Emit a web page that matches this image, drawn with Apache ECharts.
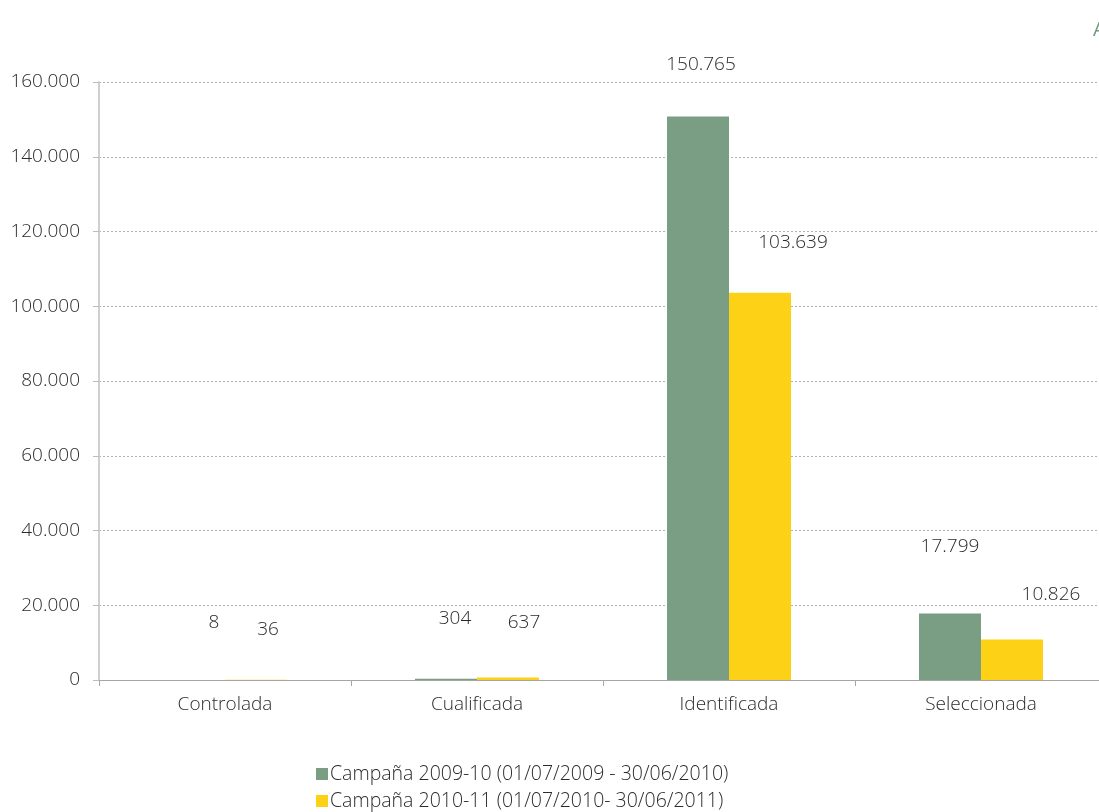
<!DOCTYPE html>
<html>
<head>
<meta charset="utf-8">
<script src="https://cdn.jsdelivr.net/npm/echarts@6/dist/echarts.min.js"></script>
<style>
html,body{margin:0;padding:0;background:#fff;}
#chart{width:1099px;height:812px;}
</style>
</head>
<body>
<div id="chart"></div>
<script>
const categories = ['Controlada', 'Cualificada', 'Identificada', 'Seleccionada'];
const seriesNames = ['Campaña 2009-10 (01/07/2009 - 30/06/2010)', 'Campaña 2010-11 (01/07/2010- 30/06/2011)'];
const values2009 = [8, 304, 150765, 17799];
const values2010 = [36, 637, 103639, 10826];
const yTicks = [0, 20000, 40000, 60000, 80000, 100000, 120000, 140000, 160000];

// label placement tweaks (pixels), kept apart from data
const labelOffsets2009 = [[20, -43], [9, -46], [3, -37], [0, -52]];
const labelOffsets2010 = [[12, -36], [16, -41], [33, -36], [39, -30]];

const FONT = 'Open Sans';
const FW = 300;
const FS = 19;
const TXT = '#2b2b2b';
function fmt(v) {
  return String(v).replace(/\B(?=(\d{3})+(?!\d))/g, '.');
}
function mkData(vals, offs) {
  return vals.map((v, i) => ({ value: v, label: { offset: offs[i] } }));
}
function mkLegend(name, top) {
  return {
    orient: 'horizontal',
    left: 316,
    top: top,
    padding: 0,
    itemWidth: 12,
    itemHeight: 12,
    icon: 'rect',
    textStyle: { fontFamily: FONT, fontSize: 19.5, color: TXT, fontWeight: FW, padding: [0, 0, 0, -3] },
    data: [name]
  };
}

const chart = echarts.init(document.getElementById('chart'), null, { renderer: 'canvas' });
chart.setOption({
  animation: false,
  textStyle: { fontFamily: FONT },
  grid: { left: 99, top: 82, width: 1008, height: 598, containLabel: false, outerBoundsMode: 'none' },
  legend: [mkLegend(seriesNames[0], 764), mkLegend(seriesNames[1], 791)],
  xAxis: {
    type: 'category',
    data: categories,
    axisLine: { lineStyle: { color: '#a6a6a6', width: 1 } },
    axisTick: { show: true, length: 6, lineStyle: { color: '#a6a6a6' } },
    axisLabel: { fontFamily: FONT, fontSize: FS, color: TXT, fontWeight: FW, margin: 15 }
  },
  yAxis: {
    type: 'value',
    min: 0,
    max: 160000,
    interval: 20000,
    axisLine: { show: true, lineStyle: { color: '#cfcfcf', width: 2 } },
    axisTick: { show: true, length: 6, lineStyle: { color: '#bdbdbd' } },
    splitLine: { show: true, lineStyle: { color: '#b0b0b0', type: [2, 2], width: 1 } },
    axisLabel: {
      fontFamily: FONT, fontSize: FS, color: TXT, fontWeight: FW, margin: 19,
      formatter: v => yTicks.includes(v) ? fmt(v) : ''
    }
  },
  graphic: [{
    type: 'text', left: 1093, top: 20,
    style: { text: 'A', fontFamily: FONT, fontSize: 20, fill: '#6f9a7c' }
  }],
  series: [
    {
      name: seriesNames[0],
      type: 'bar',
      barWidth: 62,
      barGap: '0%',
      itemStyle: { color: '#7a9e84' },
      label: {
        show: true, position: 'top', distance: 5,
        fontFamily: FONT, fontSize: FS, color: TXT, fontWeight: FW,
        formatter: p => fmt(p.value)
      },
      data: mkData(values2009, labelOffsets2009)
    },
    {
      name: seriesNames[1],
      type: 'bar',
      barWidth: 62,
      barGap: '0%',
      itemStyle: { color: '#fcd116' },
      label: {
        show: true, position: 'top', distance: 5,
        fontFamily: FONT, fontSize: FS, color: TXT, fontWeight: FW,
        formatter: p => fmt(p.value)
      },
      data: mkData(values2010, labelOffsets2010)
    }
  ]
});
</script>
</body>
</html>
